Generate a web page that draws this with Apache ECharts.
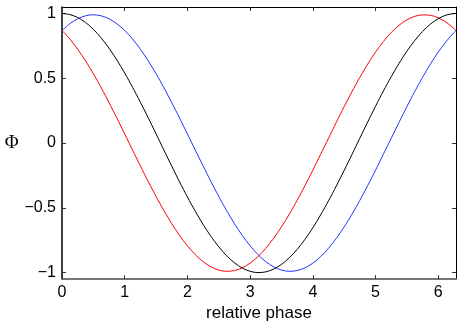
<!DOCTYPE html>
<html lang="en">
<head>
    <meta charset="UTF-8">
    <title>relative phase</title>
    <script src="https://cdn.jsdelivr.net/npm/echarts@6/dist/echarts.min.js"></script>
    <style>
        html, body { margin: 0; padding: 0; background: #fff; }
        #main { width: 463px; height: 327px; }
    </style>
</head>
<body>
<div id="main"></div>
<script type="text/javascript">
    // sample points along relative phase
    var phase = [0, 0.125, 0.25, 0.375, 0.5, 0.625, 0.75, 0.875, 1.0, 1.125, 1.25, 1.375,
        1.5, 1.625, 1.75, 1.875, 2.0, 2.125, 2.25, 2.375, 2.5, 2.625, 2.75, 2.875, 3.0,
        3.125, 3.25, 3.375, 3.5, 3.625, 3.75, 3.875, 4.0, 4.125, 4.25, 4.375, 4.5, 4.625,
        4.75, 4.875, 5.0, 5.125, 5.25, 5.375, 5.5, 5.625, 5.75, 5.875, 6.0, 6.125, 6.25, 6.2832];
    var redVals = [0.869, 0.803, 0.724, 0.635, 0.535, 0.427, 0.312, 0.193, 0.070, -0.054,
        -0.176, -0.297, -0.412, -0.521, -0.622, -0.713, -0.793, -0.861, -0.915, -0.955, -0.980,
        -0.990, -0.984, -0.963, -0.927, -0.877, -0.812, -0.735, -0.647, -0.549, -0.442, -0.328,
        -0.209, -0.086, 0.037, 0.160, 0.281, 0.397, 0.507, 0.609, 0.702, 0.783, 0.853, 0.909,
        0.951, 0.978, 0.989, 0.986, 0.967, 0.933, 0.884, 0.869];
    var blackVals = [1.000, 0.992, 0.969, 0.931, 0.878, 0.811, 0.732, 0.641, 0.540, 0.431,
        0.315, 0.195, 0.071, -0.054, -0.178, -0.300, -0.416, -0.526, -0.628, -0.720, -0.801,
        -0.870, -0.924, -0.965, -0.990, -1.000, -0.994, -0.973, -0.937, -0.885, -0.821, -0.743,
        -0.654, -0.554, -0.446, -0.331, -0.211, -0.087, 0.038, 0.162, 0.284, 0.401, 0.512,
        0.615, 0.709, 0.791, 0.861, 0.918, 0.960, 0.988, 0.999, 1.000];
    var blueVals = [0.869, 0.921, 0.959, 0.982, 0.990, 0.982, 0.959, 0.921, 0.869, 0.803,
        0.724, 0.635, 0.535, 0.427, 0.312, 0.193, 0.070, -0.054, -0.176, -0.297, -0.412,
        -0.521, -0.622, -0.713, -0.793, -0.861, -0.915, -0.955, -0.980, -0.990, -0.984, -0.963,
        -0.927, -0.877, -0.812, -0.735, -0.647, -0.549, -0.442, -0.328, -0.209, -0.086, 0.037,
        0.160, 0.281, 0.397, 0.507, 0.609, 0.702, 0.783, 0.853, 0.869];
    var xTicks = [0, 1, 2, 3, 4, 5, 6];
    var yTicks = [-1, -0.5, 0, 0.5, 1];

    var myChart = echarts.init(document.getElementById('main'));

    function pairs(vals) {
        var out = [];
        for (var i = 0; i < phase.length; i++) {
            out.push([phase[i], vals[i]]);
        }
        return out;
    }

    function fmtY(v) {
        return String(v).replace('-', '\u2212');
    }

    var font = 'Liberation Sans, Arial, Helvetica, sans-serif';

    function line(vals, color) {
        return {
            type: 'line', data: pairs(vals), smooth: 0.3, showSymbol: false,
            lineStyle: { color: color, width: 1 }, itemStyle: { color: color }
        };
    }

    var option = {
        animation: false,
        grid: { left: 62, right: 7, top: 7, bottom: 39 },
        xAxis: [{
            type: 'value', min: 0, max: 6.2832, position: 'bottom',
            name: 'relative phase', nameLocation: 'middle', nameGap: 22,
            nameTextStyle: { color: '#000', fontSize: 17, fontFamily: font },
            axisLine: { show: true, onZero: false, lineStyle: { color: '#777', width: 2 } },
            axisTick: { show: true, inside: true, length: 4, customValues: xTicks, lineStyle: { color: '#333' } },
            axisLabel: { customValues: xTicks, color: '#000', fontSize: 16, fontFamily: font, margin: 5 },
            splitLine: { show: false }
        }, {
            type: 'value', min: 0, max: 6.2832, position: 'top',
            axisLine: { show: true, onZero: false, lineStyle: { color: '#000', width: 1 } },
            axisTick: { show: true, inside: true, length: 4, customValues: xTicks, lineStyle: { color: '#333' } },
            axisLabel: { show: false },
            splitLine: { show: false }
        }],
        yAxis: [{
            type: 'value', min: -1.05, max: 1.05, position: 'left',
            name: '\u03A6', nameLocation: 'middle', nameRotate: 0, nameGap: 42,
            nameTextStyle: { color: '#000', fontSize: 19, fontFamily: 'Liberation Serif, Times New Roman, serif' },
            axisLine: { show: true, onZero: false, lineStyle: { color: '#000', width: 1.5 } },
            axisTick: { show: true, inside: true, length: 4, customValues: yTicks, lineStyle: { color: '#333' } },
            axisLabel: { customValues: yTicks, formatter: fmtY, color: '#000', fontSize: 16, fontFamily: font, margin: 6 },
            splitLine: { show: false }
        }, {
            type: 'value', min: -1.05, max: 1.05, position: 'right',
            axisLine: { show: true, onZero: false, lineStyle: { color: '#000', width: 1 } },
            axisTick: { show: true, inside: true, length: 4, customValues: yTicks, lineStyle: { color: '#333' } },
            axisLabel: { show: false },
            splitLine: { show: false }
        }],
        series: [
            line(redVals, '#ff0000'),
            line(blackVals, '#000000'),
            line(blueVals, '#2233ff')
        ]
    };

    myChart.setOption(option);
</script>
</body>
</html>
